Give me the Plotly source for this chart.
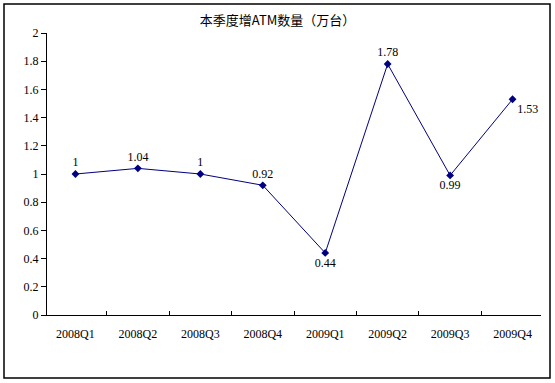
import plotly.graph_objects as go

categories = ["2008Q1", "2008Q2", "2008Q3", "2008Q4", "2009Q1", "2009Q2", "2009Q3", "2009Q4"]
values = [1, 1.04, 1, 0.92, 0.44, 1.78, 0.99, 1.53]
labels = ["1", "1.04", "1", "0.92", "0.44", "1.78", "0.99", "1.53"]
label_pos = ["top center", "top center", "top center", "top center",
             "bottom center", "top center", "bottom center", "bottom right"]
y_ticks = [0, 0.2, 0.4, 0.6, 0.8, 1, 1.2, 1.4, 1.6, 1.8, 2]
y_tick_text = ["0", "0.2", "0.4", "0.6", "0.8", "1", "1.2", "1.4", "1.6", "1.8", "2"]

W, H = 555, 383
ml, mr, mt, mb = 47, 14, 33, 68
pw, ph = W - ml - mr, H - mt - mb

font_num = "Liberation Serif, Noto Sans CJK SC, serif"

fig = go.Figure()
fig.add_trace(go.Scatter(
    x=categories, y=values, mode="lines+markers+text",
    text=labels, textposition=label_pos,
    textfont=dict(family=font_num, size=12, color="#000000"),
    line=dict(color="#000080", width=1),
    marker=dict(symbol="diamond", size=6, color="#000080"),
    cliponaxis=False,
))

fig.update_layout(
    width=W, height=H,
    margin=dict(l=ml, r=mr, t=mt, b=mb),
    paper_bgcolor="white", plot_bgcolor="white",
    showlegend=False,
    title=dict(text="本季度增ATM数量（万台）", x=0.5, xanchor="center",
               y=1 - 20 / H, yanchor="middle",
               font=dict(family="Noto Sans CJK SC, sans-serif", size=13, color="#000000")),
    xaxis=dict(showgrid=False, showline=True, linecolor="#000000", linewidth=1,
               ticks="inside", ticklen=4, tickcolor="#000000", tickson="boundaries",
               tickfont=dict(family=font_num, size=12, color="#000000"),
               zeroline=False, ticklabelstandoff=8),
    yaxis=dict(range=[0, 2], tickvals=y_ticks, ticktext=y_tick_text,
               showgrid=False, showline=True, linecolor="#000000", linewidth=1,
               ticks="outside", ticklen=5, tickcolor="#000000",
               tickfont=dict(family=font_num, size=12, color="#000000"),
               zeroline=False),
)

# outer chart border
fig.add_shape(type="rect", xref="paper", yref="paper",
              x0=(4 - ml) / pw, x1=(550 - ml) / pw,
              y0=-(378 - (mt + ph)) / ph, y1=1 + (mt - 4) / ph,
              line=dict(color="#000000", width=1.5), layer="below")

fig.write_html("out.html", config={"displayModeBar": False},
               post_script="document.body.style.margin='0';")
